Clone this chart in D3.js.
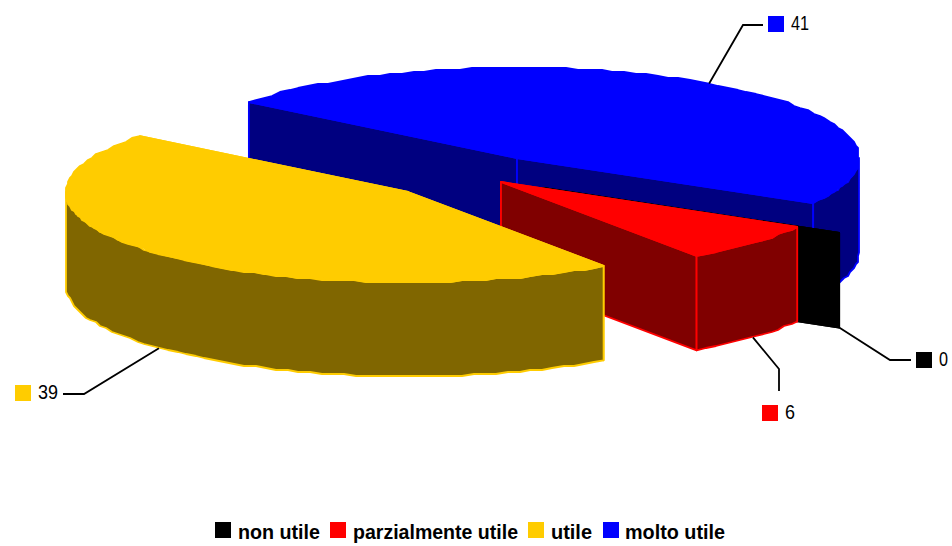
<!DOCTYPE html>
<html><head><meta charset="utf-8">
<script src="https://cdnjs.cloudflare.com/ajax/libs/d3/7.8.5/d3.min.js"></script>
<style>html,body{margin:0;background:#fff}svg{display:block}text{font-family:"Liberation Sans",Arial,sans-serif;fill:#000}</style>
</head><body><svg id="c" width="952" height="546"></svg>
<script>
const categories = ["non utile","parzialmente utile","utile","molto utile"];
const values = [0,6,39,41];
const topColors = ["#000000","#ff0000","#ffcc00","#0000ff"];
const wallColors = ["#000000","#800000","#806600","#000080"];

// layout, by slice
const centers = [[543,188],[501,182],[408,192],[517,158]];
const elbows = [[[890,360],[911,360]],[[779,369],[779,391]],[[84,394],[63,394]],[[743,25],[763,25]]];
const labelBoxes = [[916,352],[762,405],[15,385],[768,16]];
const labelText = [[939,9],[785,10],[38,20],[791,18]];
const legendX = [[215,238,82],[330,353,165],[528,551,41],[603,625,100]];
const RX=342, RY=90, DEPTH=94.5, GRID=2, STEP=2;

const svg=d3.select("#c");
const tau=Math.PI*2, rad=Math.PI/180;
const pie=d3.pie().sort(null).value(d=>d).startAngle(120*rad).endAngle(480*rad);
const arcs=pie(values);
const unitX=d3.scaleLinear().domain([-1,1]).range([-RX,RX]);
const unitY=d3.scaleLinear().domain([-1,1]).range([-RY,RY]);
const pt=(c,a,dz=0)=>[c[0]+unitX(Math.sin(a)),c[1]+unitY(-Math.cos(a))+dz];
const snap=p=>[Math.round(p[0]/GRID)*GRID,Math.round(p[1]/GRID)*GRID];
const line=d3.line();
function arcPts(c,a0,a1,dz=0){
  const out=[pt(c,a0,dz)];
  const n=Math.max(1,Math.ceil((a1-a0)/(STEP*rad)));
  for(let i=1;i<n;i++) out.push(snap(pt(c,a0+(a1-a0)*i/n,dz)));
  if(a1>a0) out.push(pt(c,a1,dz));
  return out;
}
const g=svg.append("g");
function poly(pts,fill,stroke){
  g.append("path").attr("d",line(pts)+"Z").attr("fill",fill).attr("stroke",stroke)
   .attr("stroke-width",1.8).attr("stroke-linejoin","round");
}
function drawWalls(i){
  const d=arcs[i],c=centers[i];
  const rWall=a=>{const p=pt(c,a);poly([c,p,[p[0],p[1]+DEPTH],[c[0],c[1]+DEPTH]],wallColors[i],topColors[i]);};
  rWall(d.startAngle); rWall(d.endAngle);
  [[Math.PI/2,Math.PI*1.5],[Math.PI*2.5,Math.PI*3.5]].forEach(([lo,hi])=>{
    const a0=Math.max(d.startAngle,lo),a1=Math.min(d.endAngle,hi);
    if(a1>a0){
      const t=arcPts(c,a0,a1),b=arcPts(c,a0,a1,DEPTH).reverse();
      poly(t.concat(b),wallColors[i],topColors[i]);
    }
  });
}
function drawTop(i){
  const d=arcs[i],c=centers[i];
  poly([c].concat(arcPts(c,d.startAngle,d.endAngle)),topColors[i],topColors[i]);
}
// back to front: blue, black, red, yellow
[3,0,1,2].forEach(i=>{drawWalls(i);drawTop(i);});

// leaders
arcs.forEach((d,i)=>{
  const mid=(d.startAngle+d.endAngle)/2;
  const a=pt(centers[i],mid,mid%tau>Math.PI/2&&mid%tau<Math.PI*1.5?DEPTH:0);
  svg.append("path").attr("d",line([a].concat(elbows[i]))).attr("fill","none").attr("stroke","#000").attr("stroke-width",1.8);
  svg.append("rect").attr("x",labelBoxes[i][0]).attr("y",labelBoxes[i][1]).attr("width",16).attr("height",16).attr("fill",topColors[i]);
  svg.append("text").attr("x",labelText[i][0]).attr("y",labelBoxes[i][1]+14)
    .attr("font-size",21).attr("textLength",labelText[i][1]).attr("lengthAdjust","spacingAndGlyphs").text(values[i]);
});
// legend
categories.forEach((n,i)=>{
  svg.append("rect").attr("x",legendX[i][0]).attr("y",522).attr("width",16).attr("height",16).attr("fill",topColors[i]);
  svg.append("text").attr("x",legendX[i][1]).attr("y",539).attr("font-size",20).attr("font-weight","bold")
    .attr("textLength",legendX[i][2]).attr("lengthAdjust","spacingAndGlyphs").text(n);
});
</script></body></html>
